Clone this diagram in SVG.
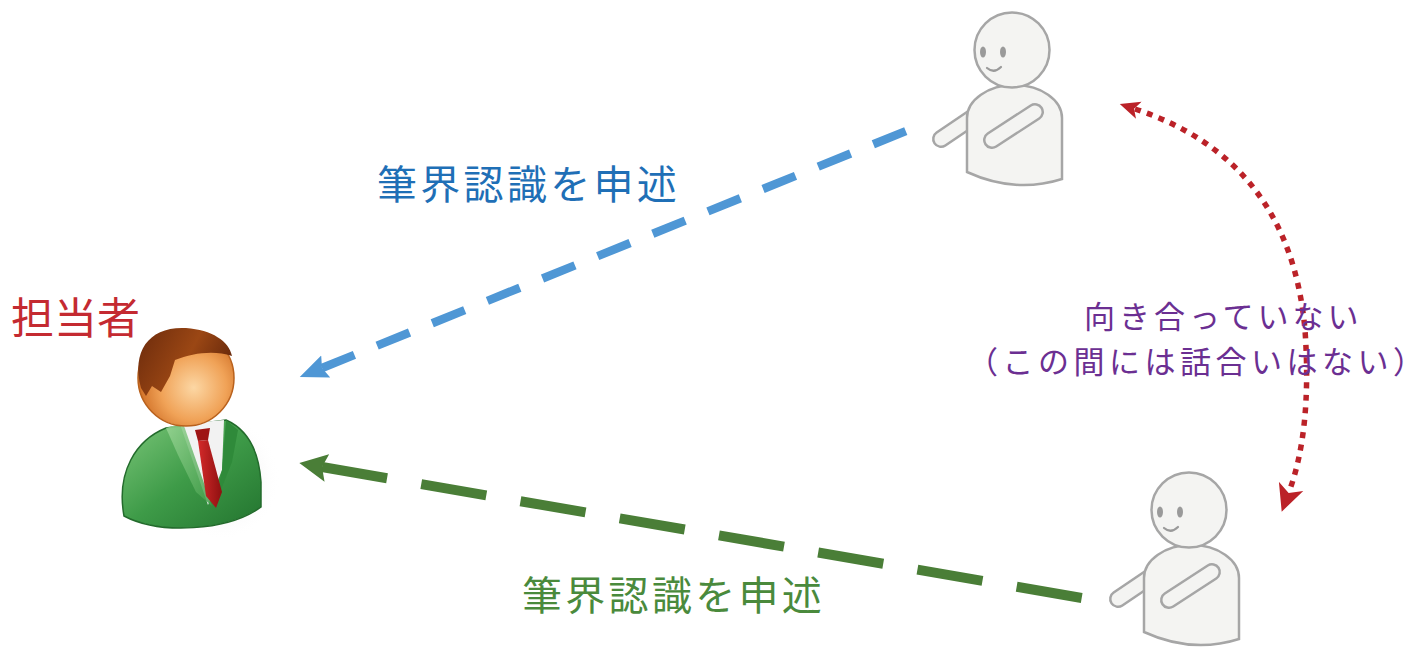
<svg xmlns="http://www.w3.org/2000/svg" width="1426" height="654" viewBox="0 0 1426 654">
  <style>
    .jp { font-family: "Noto Sans CJK JP", "Noto Sans CJK SC", sans-serif; }
    .robot-fill { fill: #f4f4f2; stroke: #a6a6a6; stroke-width: 2.5; }
    .arm-out { stroke: #a6a6a6; stroke-width: 18; stroke-linecap: round; fill: none; }
    .arm-in { stroke: #f4f4f2; stroke-width: 13; stroke-linecap: round; fill: none; }
  </style>
  <defs>
    <marker id="headBlue" markerUnits="userSpaceOnUse" viewBox="0 -14 30 28" refX="4" refY="0" markerWidth="30" markerHeight="28" orient="auto-start-reverse">
      <path d="M0,-12 L28,0 L0,12 L4,0 Z" fill="#4f97d5"/>
    </marker>
    <marker id="headGreen" markerUnits="userSpaceOnUse" viewBox="0 -15 30 30" refX="5" refY="0" markerWidth="30" markerHeight="30" orient="auto-start-reverse">
      <path d="M0,-14 L28,0 L0,14 L5,0 Z" fill="#4a7e37"/>
    </marker>
    <marker id="headRedS" markerUnits="userSpaceOnUse" viewBox="0 -10 22 20" refX="4" refY="0" markerWidth="22" markerHeight="20" orient="auto-start-reverse">
      <path d="M0,-9 L20,0 L0,9 L5,0 Z" fill="#bb2228"/>
    </marker>
    <marker id="headRedL" markerUnits="userSpaceOnUse" viewBox="0 -14 30 28" refX="6" refY="0" markerWidth="30" markerHeight="28" orient="auto">
      <path d="M0,-13 L27,0 L0,13 L7,0 Z" fill="#bb2228"/>
    </marker>

    <radialGradient id="faceGrad" cx="0.58" cy="0.6" r="0.62">
      <stop offset="0" stop-color="#fcd7a4"/>
      <stop offset="0.55" stop-color="#f0a257"/>
      <stop offset="1" stop-color="#c9651c"/>
    </radialGradient>
    <linearGradient id="hairGrad" x1="0" y1="0" x2="1" y2="0.4">
      <stop offset="0" stop-color="#6b2a0c"/>
      <stop offset="0.6" stop-color="#9b4714"/>
      <stop offset="1" stop-color="#6a2a0c"/>
    </linearGradient>
    <linearGradient id="suitGrad" x1="0" y1="0" x2="1" y2="1">
      <stop offset="0" stop-color="#7cc77a"/>
      <stop offset="0.5" stop-color="#3e9b48"/>
      <stop offset="1" stop-color="#23742f"/>
    </linearGradient>
    <linearGradient id="lapelGrad" x1="0" y1="0" x2="1" y2="1">
      <stop offset="0" stop-color="#9ad696"/>
      <stop offset="1" stop-color="#3f9c47"/>
    </linearGradient>
    <linearGradient id="tieGrad" x1="0" y1="0" x2="1" y2="0">
      <stop offset="0" stop-color="#d42a2a"/>
      <stop offset="1" stop-color="#8e1010"/>
    </linearGradient>
    <radialGradient id="shadowGrad" cx="0.5" cy="0.5" r="0.5">
      <stop offset="0" stop-color="#d8d8d8"/>
      <stop offset="1" stop-color="#ffffff" stop-opacity="0"/>
    </radialGradient>

    <!-- small robot figure, drawn at its top position -->
    <g id="robotFig">
      <path class="arm-out" d="M941,139 L975,116"/>
      <path class="arm-in" d="M941,139 L975,116"/>
      <path class="robot-fill" d="M967,172 L967,118 A47.5,33 0 0 1 1062,118 L1062,179 Q1015,194 967,172 Z"/>
      <circle class="robot-fill" cx="1012" cy="50" r="37.5"/>
      <ellipse cx="983" cy="52" rx="3" ry="5.5" fill="#9a9a9a"/>
      <ellipse cx="1003" cy="52" rx="3" ry="5.5" fill="#9a9a9a"/>
      <path d="M987,68 Q994,74 1001,67" fill="none" stroke="#9a9a9a" stroke-width="2.2" stroke-linecap="round"/>
      <path class="arm-out" d="M992,140 L1035,112"/>
      <path class="arm-in" d="M992,140 L1035,112"/>
    </g>
  </defs>

  <rect width="1426" height="654" fill="#ffffff"/>

  <!-- person in charge -->
  <g id="tantousha">
    <ellipse cx="222" cy="478" rx="58" ry="62" fill="url(#shadowGrad)"/>
    <path d="M124,516 C116,472 136,440 166,428 L226,420 C249,430 259,452 261,482 L261,507 C228,531 160,535 124,516 Z" fill="url(#suitGrad)" stroke="#236b2c" stroke-width="1.5"/>
    <!-- shirt -->
    <path d="M180,424 L224,420 L222,470 L208,505 Z" fill="#f2f2f2"/>
    <!-- lapels -->
    <path d="M166,428 L183,423 L212,506 L196,492 L178,455 Z" fill="url(#lapelGrad)" opacity="0.85"/>
    <path d="M226,420 L238,430 L232,462 L215,505 L222,470 Z" fill="#2f8a3a"/>
    <!-- tie -->
    <path d="M195,430 L210,428 L208,440 L198,441 Z" fill="#9e1414"/>
    <path d="M198,441 L208,440 L222,492 L216,508 L206,496 Z" fill="url(#tieGrad)"/>
    <!-- head -->
    <circle cx="186" cy="378" r="48" fill="url(#faceGrad)" stroke="#b9611c" stroke-width="1.5"/>
    <path d="M141,388 C131,350 150,326 186,328 C212,330 229,341 232,356 C214,350 193,353 175,360 L170,376 L161,392 L152,386 L146,396 Z" fill="url(#hairGrad)"/>
  </g>

  <!-- the two others -->
  <g id="robotTop">
    <use href="#robotFig"/>
  </g>
  <g id="robotBottom">
    <use href="#robotFig" transform="translate(177,460)"/>
  </g>

  <!-- connectors -->
  <g id="connectors" fill="none">
    <path d="M322,368 L906,131" stroke="#4f97d5" stroke-width="8.5" stroke-dasharray="35 24.5" marker-start="url(#headBlue)"/>
    <path d="M322,467 L1082,598" stroke="#4a7e37" stroke-width="10" stroke-dasharray="66 34.7" marker-start="url(#headGreen)"/>
    <path d="M1135,109 Q1290,160 1305,330 Q1312,430 1289,492" stroke="#bb2228" stroke-width="5.5" stroke-dasharray="6 6.5" marker-start="url(#headRedS)" marker-end="url(#headRedL)"/>
  </g>

  <!-- labels -->
  <g id="labels" class="jp">
    <text x="11" y="334" font-size="43" fill="#c42a31">担当者</text>
    <text x="377" y="199" font-size="40" letter-spacing="3.3" fill="#1f6fb6">筆界認識を申述</text>
    <text x="522" y="610" font-size="40" letter-spacing="3.3" fill="#4a8a3c">筆界認識を申述</text>
    <text x="1084" y="328" font-size="31" letter-spacing="4" fill="#6b2f92">向き合っていない</text>
    <text x="967" y="373" font-size="31" letter-spacing="4.5" fill="#6b2f92">（この間には話合いはない）</text>
  </g>
</svg>
